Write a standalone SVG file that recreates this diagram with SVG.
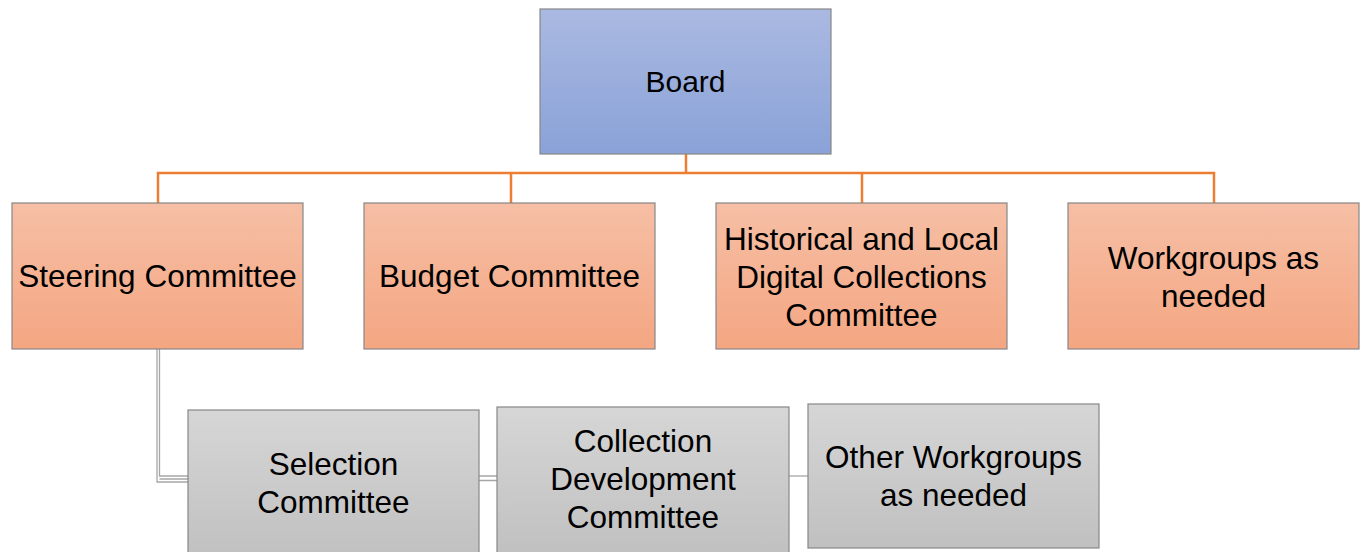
<svg xmlns="http://www.w3.org/2000/svg" width="1364" height="552" viewBox="0 0 1364 552">
<defs>
<linearGradient id="gBlue" x1="0" y1="0" x2="0" y2="1">
<stop offset="0" stop-color="#aab9e1"/><stop offset="1" stop-color="#8aa2d8"/>
</linearGradient>
<linearGradient id="gOrange" x1="0" y1="0" x2="0" y2="1">
<stop offset="0" stop-color="#f6bfa5"/><stop offset="1" stop-color="#f4a682"/>
</linearGradient>
<linearGradient id="gGray" x1="0" y1="0" x2="0" y2="1">
<stop offset="0" stop-color="#d6d6d6"/><stop offset="1" stop-color="#c0c0c0"/>
</linearGradient>
</defs>
<style>
.box{stroke:#878787;stroke-width:1.2}
.blue{fill:url(#gBlue)}
.orange{fill:url(#gOrange)}
.gray{fill:url(#gGray)}
.lbl{font-family:"Liberation Sans",Arial,sans-serif;font-size:31.5px;fill:#000;text-anchor:middle}
.oc{fill:none;stroke:#ed7d31;stroke-width:2.5}
.gc{fill:none;stroke:#a6a6a6;stroke-width:1.3}
</style>
<rect width="1364" height="552" fill="#fff"/>
<g id="connectors">
<path class="oc" d="M686,154 V173 M158,203 V173 H1214 V203 M511,173 V203 M862,173 V203"/>
<path class="gc" d="M157,349 V482 H188 M159.5,349 V476 H188 M159.5,479 H188"/>
<path class="gc" d="M479,476 H497 M479,480.5 H497"/>
<path class="gc" d="M789,476 H808"/>
</g>
<g id="board">
<rect class="box blue" x="540" y="9" width="291" height="145"/>
<text class="lbl" x="685.5" y="92" style="font-size:30px">Board</text>
</g>
<g id="steering">
<rect class="box orange" x="12" y="203" width="291" height="146"/>
<text class="lbl" x="157.5" y="287">Steering Committee</text>
</g>
<g id="budget">
<rect class="box orange" x="364" y="203" width="291" height="146"/>
<text class="lbl" x="509.5" y="287">Budget Committee</text>
</g>
<g id="historical">
<rect class="box orange" x="716" y="203" width="291" height="146"/>
<text class="lbl" x="861.5" y="250">Historical and Local</text>
<text class="lbl" x="861.5" y="288">Digital Collections</text>
<text class="lbl" x="861.5" y="326">Committee</text>
</g>
<g id="workgroups">
<rect class="box orange" x="1068" y="203" width="291" height="146"/>
<text class="lbl" x="1213.5" y="269">Workgroups as</text>
<text class="lbl" x="1213.5" y="307">needed</text>
</g>
<g id="selection">
<rect class="box gray" x="188" y="410" width="291" height="150"/>
<text class="lbl" x="333.5" y="475">Selection</text>
<text class="lbl" x="333.5" y="513">Committee</text>
</g>
<g id="collection">
<rect class="box gray" x="497" y="407" width="292" height="150"/>
<text class="lbl" x="643" y="452">Collection</text>
<text class="lbl" x="643" y="490">Development</text>
<text class="lbl" x="643" y="528">Committee</text>
</g>
<g id="other">
<rect class="box gray" x="808" y="404" width="291" height="144"/>
<text class="lbl" x="953.5" y="468">Other Workgroups</text>
<text class="lbl" x="953.5" y="506">as needed</text>
</g>
</svg>
